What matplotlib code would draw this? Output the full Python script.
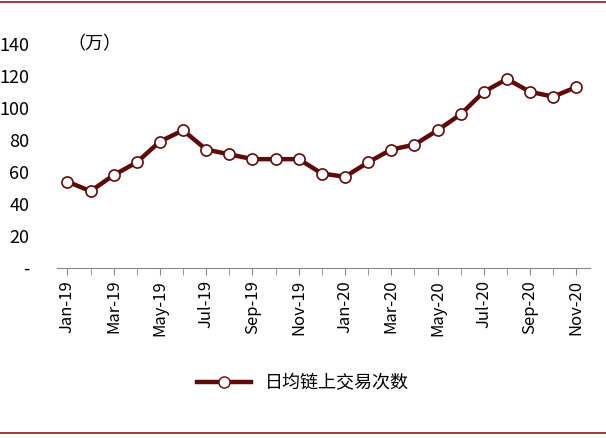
import matplotlib
matplotlib.use("Agg")
import matplotlib.pyplot as plt
from matplotlib.lines import Line2D

plt.rcParams['font.family'] = ['Noto Sans CJK SC', 'DejaVu Sans']

months = ["Jan-19","Feb-19","Mar-19","Apr-19","May-19","Jun-19","Jul-19","Aug-19","Sep-19","Oct-19","Nov-19","Dec-19",
          "Jan-20","Feb-20","Mar-20","Apr-20","May-20","Jun-20","Jul-20","Aug-20","Sep-20","Oct-20","Nov-20"]
values = [54,48,58,66,79,86,74,71,68,68,68,59,57,66,74,77,86,96,110,118,110,107,113]
yticks = [0,20,40,60,80,100,120,140]
ylabels = ["-","20","40","60","80","100","120","140"]

color = "#5E0B0B"
fig = plt.figure(figsize=(6.06,4.38), dpi=100)
ax = fig.add_axes([0.094,0.388,0.88,0.512])
x = list(range(len(months)))
ax.plot(x, values, color=color, lw=3.2, marker='o', ms=8, mfc='white', mec=color, mew=1.2)
ax.set_ylim(0,140)
ax.set_xlim(-0.45, len(months)-0.4)
ax.set_yticks(yticks)
ax.set_yticklabels(ylabels, fontsize=13)
ax.set_xticks(x[::2])
ax.set_xticklabels(months[::2], rotation=90, fontsize=12)
ax.set_xticks(x, minor=True)
for s in ['top','right','left']:
    ax.spines[s].set_visible(False)
ax.spines['bottom'].set_color('#888888')
ax.tick_params(axis='y', length=0, pad=20)
ax.tick_params(axis='x', which='both', length=5, color='#888888', direction='out')
ax.text(0.02, 1.0, "（万）", transform=ax.transAxes, fontsize=13, va='center')

handle = Line2D([], [], color=color, lw=3.2, marker='o', ms=8, mfc='white', mec=color)
fig.legend([handle], ["日均链上交易次数"], loc='center', bbox_to_anchor=(0.5, 0.125),
           frameon=False, fontsize=13, handlelength=3)

fig.add_artist(Line2D([0,1],[0.995,0.995], color="#8B1A1A", lw=1.2, transform=fig.transFigure))
fig.add_artist(Line2D([0,1],[0.012,0.012], color="#8B1A1A", lw=1.2, transform=fig.transFigure))
fig.savefig("out.png", dpi=100)
